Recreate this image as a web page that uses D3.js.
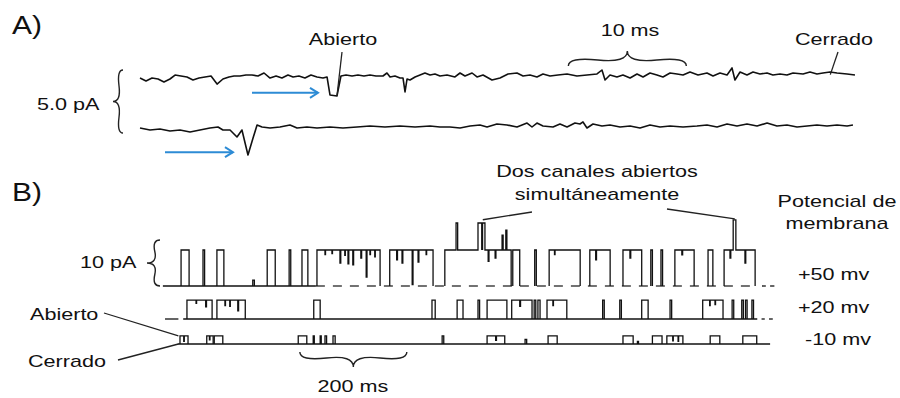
<!DOCTYPE html>
<html><head><meta charset="utf-8">
<script src="https://cdn.jsdelivr.net/npm/d3@7"></script>
<style>html,body{margin:0;padding:0;background:#fff;} svg{display:block;}</style>
</head><body><svg id="c" width="900" height="398"></svg>
<script>
// ---------- DATA ----------
// Panel A: single-channel recordings, [time ms, current pA]
const traceA1 = [[0,-0.17],[0.51,-0.42],[1.02,-0.17],[1.53,-0.25],[2.03,-0.5],[2.54,-0.25],[2.97,0.08],[3.47,0],[3.98,-0.08],[4.49,-0.33],[5.0,-0.17],[5.51,-0.08],[6.02,0],[6.53,-0.67],[7.03,-0.25],[7.54,-0.08],[7.97,0],[8.47,0],[8.98,0.08],[9.49,0.08],[10.0,0],[10.51,0.25],[11.02,-0.17],[11.53,0],[12.03,-0.17],[12.54,0.08],[12.97,-0.08],[13.47,0],[13.98,-0.17],[14.49,0.08],[15.0,-0.08],[15.51,-0.17],[15.85,-0.08],[16.1,-1.58],[16.69,-1.67],[17.03,0],[17.46,0.08],[17.97,0],[18.47,0.08],[18.98,0],[19.49,0.08],[20.0,0],[20.59,0],[20.93,0.25],[21.19,-0.08],[21.61,0],[22.03,-0.17],[22.29,-0.17],[22.46,-1.33],[22.63,-0.25],[22.88,-0.33],[23.31,-0.08],[23.73,0.08],[24.15,0.25],[24.58,0.08],[25.0,0.17],[25.42,0],[26.02,0.08],[26.69,-0.08],[27.12,0.25],[27.54,0],[28.14,0.25],[28.56,-0.08],[29.07,0.08],[29.83,-0.33],[30.51,-0.17],[31.19,0.17],[31.95,0.25],[32.46,0],[33.05,0.08],[33.64,-0.08],[34.15,0.17],[34.75,0],[35.42,0.08],[36.19,0.17],[37.03,0],[37.88,0.08],[38.73,0.17],[39.15,0.5],[39.41,-0.33],[39.83,0.08],[40.42,-0.08],[40.93,0.08],[41.53,-0.17],[42.12,0.17],[42.63,-0.08],[43.22,0.25],[43.81,0.08],[44.32,-0.08],[44.92,0.25],[45.51,0.17],[46.02,0.08],[46.61,0.33],[47.29,0.08],[48.05,0.25],[48.56,0],[49.15,0.25],[49.75,0.08],[50.17,0.67],[50.42,-0.33],[50.85,0.33],[51.44,0.08],[51.95,0.33],[52.54,0.17],[53.14,0.25],[53.64,0.08],[54.24,0.17],[54.83,0.08],[55.34,0.25],[56.19,0.17],[56.78,0.33],[57.37,0.17],[57.88,0.25],[58.47,0.33],[59.07,0.25],[59.92,0.17],[60.59,0.08]];
const traceA2 = [[0,-0.08],[0.85,-0.25],[1.69,-0.17],[2.54,-0.33],[3.39,-0.25],[4.24,-0.42],[5.08,-0.25],[5.93,-0.08],[6.61,0],[7.03,-0.25],[7.63,-0.25],[8.22,-0.83],[8.64,-0.25],[9.15,-2.33],[9.58,-0.92],[9.92,0.17],[10.34,0],[11.02,-0.08],[11.86,0],[12.71,0.17],[13.31,-0.08],[14.15,0],[15.0,-0.08],[16.1,0],[17.2,-0.08],[18.39,0],[19.49,0.08],[20.76,0],[22.03,0.08],[23.31,0],[24.58,0.08],[25.42,0],[26.27,0],[27.12,-0.08],[27.97,0.08],[28.81,0.17],[29.41,0],[30.25,0.25],[31.1,0.17],[31.95,0],[32.8,0.33],[33.22,0],[33.64,0.33],[34.15,0.08],[35.0,0],[35.59,0.25],[36.19,0],[36.86,0.33],[37.29,0.25],[37.54,0.42],[37.88,-0.08],[38.39,0.25],[39.15,0.08],[39.83,0.17],[40.68,0],[41.53,0.08],[42.37,-0.08],[43.22,0.17],[44.07,0],[44.92,0.08],[46.02,0],[47.2,0.08],[48.05,0.17],[48.9,0],[49.75,0.25],[50.59,0.08],[51.44,0.25],[52.29,0.08],[53.14,0.33],[53.98,0.08],[54.83,0.17],[55.68,0],[56.53,0.08],[57.37,0.17],[58.22,0.08],[59.07,0.17],[59.92,0.08],[60.42,0.17]];
const openingA1 = [16.1, 16.69, -1.67];   // marked opening (t, t2, pA)
const openingA2 = [9.15, -2.33];

// Panel B: openings per membrane potential. [start ms, end ms] (+ optional level pA)
const potentials = ["+50 mv", "+20 mv", "-10 mv"];
const amplitudes = [8, 4.2, 1.8];           // unitary current pA
const doubleLevel = 14.5;                   // two channels open, pA
const events50 = [[2,17],[43,46],[69,82],[136,139,1.3],[163,178],[204,207],[228,239],[256,374],[392,473],[495,619],[622,635],[663,666],[690,748],[766,804],[828,863],[880,883],[899,902],[925,961],[987,996],[1017,1075]];
// inner level changes inside openings: [t0, t1, level pA]
const inner50 = [[271,272,7.0],[284,285,7.2],[299,300.5,5.1],[308,309,6.8],[314,315.5,4.9],[323,324.5,4.7],[338,339.5,6.2],[348,349.5,2.0],[355,356,7.0],[364,365,6.5],[405,406.5,5.8],[415,416.5,5.1],[434,435.5,0.3],[445,446.5,5.3],[460,461,7.0],[516,519,14],[557,564,14],[564,565.5,9],[565.5,570,14],[576,577.5,5.5],[589,590.5,6.2],[602,604,11.3],[609,611,12.4],[700,701,7],[777,778.5,5.8],[841,842.5,6.2],[938,939.5,6.9],[1028,1029.5,6.2],[1034,1039,14.7],[1056,1057.5,5.1]];
const events20 = [[13,60],[69,122],[250,262],[471,477],[518,529],[557,560],[574,611],[620,658],[662,665],[669,673],[686,723],[790,793],[822,825],[863,875],[916,919],[977,1015],[1032,1035],[1050,1053],[1057,1060],[1069,1072]];
const inner20 = [[30,31,3.5],[48,49.5,2.7],[84,85,3.0],[93,94,2.8],[108,109.5,1.8],[635,636.5,2.8],[697,698,3.0],[990,991,3.0],[1000,1001,3.2]];
const events10 = [[0,15],[50,62],[64,80],[221,237],[249,251],[262,264],[271,274],[286,290],[490,493],[574,607],[645,648,1.0],[688,705],[828,847],[855,857,0.6],[883,901],[910,940],[991,1009],[1052,1078]];
const inner10 = [[7,8,0.6],[55,56,0.9],[590,591.5,0.8],[921,922,0.7],[931,932,0.6]];

// ---------- DRAWING ----------
const svg = d3.select("#c");
const FONT = "'Liberation Sans', Arial, Helvetica, sans-serif";
const SX = 1.27;
const INK = "#111";

function label(x, y, txt, anchor, size, sx) {
  svg.append("text")
    .attr("transform", `translate(${x},${y}) scale(${sx || SX},1)`)
    .attr("text-anchor", anchor || "start")
    .attr("font-family", FONT)
    .attr("font-size", size || 17)
    .attr("fill", "#111")
    .text(txt);
}
function brace(x1, y1, x2, y2, w, q) {
  let dx = x1 - x2, dy = y1 - y2;
  const len = Math.sqrt(dx * dx + dy * dy);
  dx /= len; dy /= len;
  const qx1 = x1 + q * w * dy, qy1 = y1 - q * w * dx;
  const qx2 = (x1 - .25 * len * dx) + (1 - q) * w * dy, qy2 = (y1 - .25 * len * dy) - (1 - q) * w * dx;
  const tx1 = (x1 - .5 * len * dx) + w * dy, ty1 = (y1 - .5 * len * dy) - w * dx;
  const qx3 = x2 + q * w * dy, qy3 = y2 - q * w * dx;
  const qx4 = (x1 - .75 * len * dx) + (1 - q) * w * dy, qy4 = (y1 - .75 * len * dy) - (1 - q) * w * dx;
  svg.append("path")
    .attr("d", `M${x1},${y1}Q${qx1},${qy1} ${qx2},${qy2}T${tx1},${ty1}M${x2},${y2}Q${qx3},${qy3} ${qx4},${qy4}T${tx1},${ty1}`)
    .attr("fill", "none").attr("stroke", "#222").attr("stroke-width", 1.4);
}
function seg(x1, y1, x2, y2, w) {
  svg.append("line").attr("x1", x1).attr("y1", y1).attr("x2", x2).attr("y2", y2)
    .attr("stroke", "#222").attr("stroke-width", w || 1.3);
}
function arrow(x1, x2, y) {
  const c = "#2d8bd5";
  const g = svg.append("g").attr("stroke", c).attr("stroke-width", 2).attr("fill", "none");
  g.append("line").attr("x1", x1).attr("y1", y).attr("x2", x2).attr("y2", y);
  g.append("path").attr("d", `M${x2 - 8},${y - 5}L${x2},${y}L${x2 - 8},${y + 5}`);
}

// ---- Panel A ----
const xA = d3.scaleLinear().domain([0, 61]).range([140, 859.8]);
const yA1 = d3.scaleLinear().domain([-2, 1]).range([76 + 24, 76 - 12]);
const yA2 = d3.scaleLinear().domain([-2, 1]).range([127 + 24, 127 - 12]);
svg.append("path").datum(traceA1)
  .attr("d", d3.line().x(d => xA(d[0])).y(d => yA1(d[1])))
  .attr("fill", "none").attr("stroke", INK).attr("stroke-width", 1.6).attr("stroke-linejoin", "round");
svg.append("path").datum(traceA2)
  .attr("d", d3.line().x(d => xA(d[0])).y(d => yA2(d[1])))
  .attr("fill", "none").attr("stroke", INK).attr("stroke-width", 1.6).attr("stroke-linejoin", "round");

label(12, 34, "A)", "start", 25, 1.2);
label(343, 45, "Abierto", "middle");
seg(342, 52, xA(openingA1[1]), yA1(openingA1[2]));
label(630, 36, "10 ms", "middle");
brace(xA(36.3), 66, xA(46.3), 66, -15, 0.6);
label(834, 45, "Cerrado", "middle");
seg(838, 52, xA(58.5), yA1(0.2) + 1);
label(37, 110, "5.0 pA", "start");
brace(123, 70, 123, 133, 10, 0.6);
arrow(252, xA(openingA1[0]) - 12, yA1(-1.4));
arrow(165, xA(openingA2[0]) - 15, yA2(-2.1));

// ---- Panel B ----
const xB = d3.scaleLinear().domain([0, 1100]).range([180, 768.5]);
const pxPerPA = 4.5;
const baseY = [286, 319, 344];
const yB = baseY.map(b => d3.scaleLinear().domain([0, 1]).range([b, b - pxPerPA]));
const lineFor = i => d3.line().x(d => xB(d[0])).y(d => yB[i](d[1]));

function drawTrace(i, events, inner, amp) {
  const ln = lineFor(i);
  events.forEach(ev => {
    const L = ev.length > 2 ? ev[2] : amp;
    const pts = [[ev[0], 0], [ev[0], L]];
    inner.filter(f => f[0] >= ev[0] && f[1] <= ev[1]).sort((a, b) => a[0] - b[0]).forEach(f => {
      pts.push([f[0], L], [f[0], f[2]], [f[1], f[2]], [f[1], L]);
    });
    pts.push([ev[1], L], [ev[1], 0]);
    svg.append("path").datum(pts).attr("d", ln)
      .attr("fill", "none").attr("stroke", INK).attr("stroke-width", 1.3);
  });
}
function baseline(i, t0, t1, dash) {
  const p = svg.append("path").datum([[t0, 0], [t1, 0]]).attr("d", lineFor(i))
    .attr("fill", "none").attr("stroke", dash ? "#444" : INK).attr("stroke-width", 1.3);
  if (dash) p.attr("stroke-dasharray", dash);
}
// baselines
baseline(0, -32, 254);
baseline(0, 254, 1080, "9,8");
baseline(0, 1088, 1095); baseline(0, 1103, 1111);
baseline(1, -28, -3);
baseline(1, 6, 1079);
baseline(1, 1087, 1093); baseline(1, 1101, 1108);
baseline(2, -4, 1103);
drawTrace(0, events50, inner50, amplitudes[0]);
drawTrace(1, events20, inner20, amplitudes[1]);
drawTrace(2, events10, inner10, amplitudes[2]);

label(12, 201, "B)", "start", 25, 1.2);
label(597, 177, "Dos canales abiertos", "middle");
label(597, 200, "simultáneamente", "middle");
seg(532, 212, xB(566), yB[0](doubleLevel) - 1);
seg(667, 209, xB(1037), yB[0](14.7) - 1);
label(837, 207, "Potencial de", "middle");
label(837, 229, "membrana", "middle");
label(80, 268, "10 pA", "start");
brace(160, 240, 160, 286, 13, 0.6);
label(798, 280, potentials[0], "start");
label(798, 313, potentials[1], "start");
label(805, 345, potentials[2], "start");
label(30, 320, "Abierto", "start");
seg(104, 313, xB(-3), yB[2](amplitudes[2]));
label(28, 367, "Cerrado", "start");
seg(118, 360, xB(-3), yB[2](0));
brace(xB(224), 352, xB(424), 352, 15, 0.6);
label(353, 392, "200 ms", "middle");
</script></body></html>
